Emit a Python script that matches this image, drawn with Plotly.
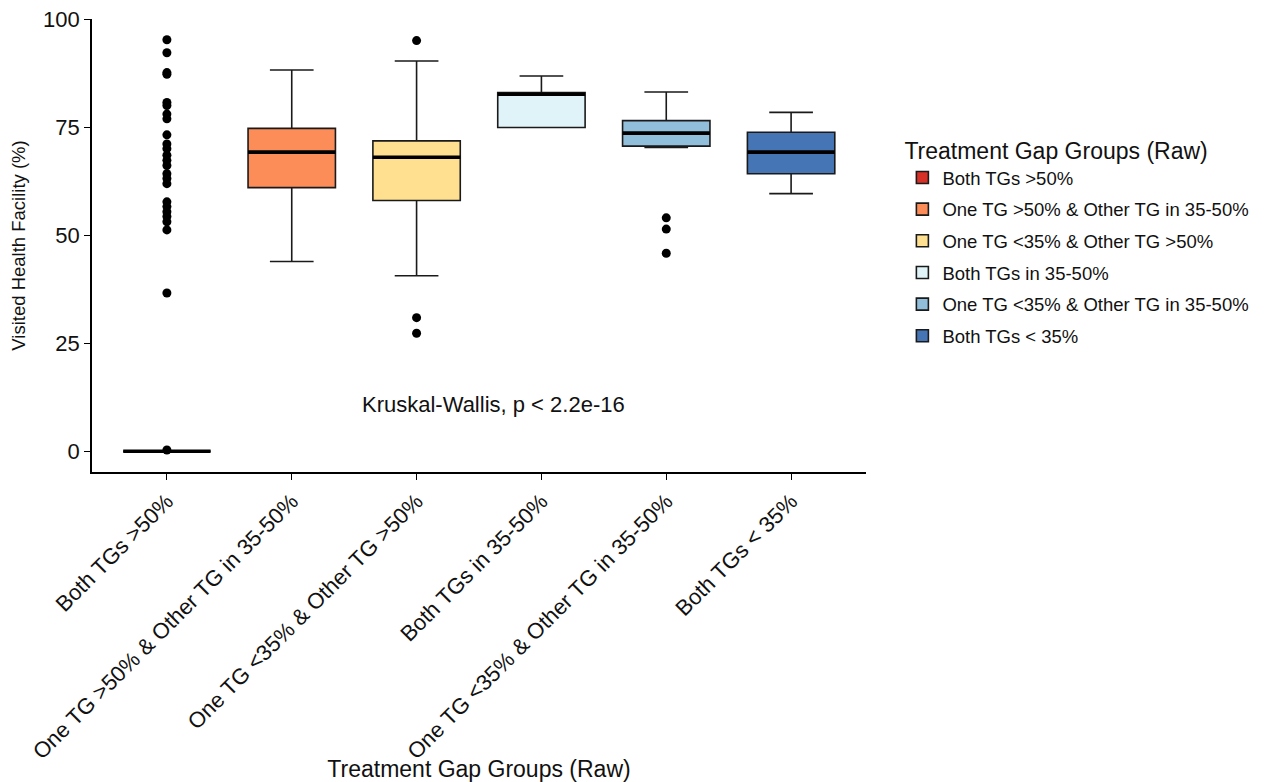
import plotly.graph_objects as go

# ---- data ----
groups = [
    "Both TGs >50%",
    "One TG >50% & Other TG in 35-50%",
    "One TG <35% & Other TG >50%",
    "Both TGs in 35-50%",
    "One TG <35% & Other TG in 35-50%",
    "Both TGs < 35%",
]
q1 = [0.0, 61.0, 58.0, 74.9, 70.6, 64.2]
median = [0.0, 69.2, 68.0, 82.6, 73.6, 69.2]
q3 = [0.0, 74.7, 71.8, 83.0, 76.5, 73.8]
lower_whisker = [0.0, 43.9, 40.6, 74.9, 70.3, 59.6]
upper_whisker = [0.0, 88.2, 90.3, 86.8, 83.1, 78.4]
outliers = [
    [95.2, 92.2, 87.6, 87.2, 80.7, 80.0, 78.0, 76.9, 73.2, 71.1, 70.0, 68.5,
     67.3, 66.1, 64.2, 63.1, 61.9, 57.7, 56.6, 55.4, 54.3, 53.1, 51.2, 36.6, 0.3],
    [],
    [95.0, 30.9, 27.3],
    [],
    [54.0, 51.4, 45.8],
    [],
]
colors = ["#D73027", "#FC8D59", "#FEE090", "#E0F3F8", "#91BFDB", "#4575B4"]
y_ticks = [0, 25, 50, 75, 100]
test_label = "Kruskal-Wallis, p < 2.2e-16"

FONT = "Liberation Sans, Arial, Helvetica, sans-serif"
BOX_W = 0.7

fig = go.Figure()
for i, g in enumerate(groups):
    fig.add_trace(go.Box(
        x=[i], q1=[q1[i]], median=[median[i]], q3=[q3[i]],
        lowerfence=[lower_whisker[i]], upperfence=[upper_whisker[i]],
        name=g, fillcolor=colors[i], width=BOX_W,
        line=dict(color="#1a1a1a", width=1.6),
        boxpoints=False, legendgroup=g, showlegend=True,
        hoverinfo="skip",
    ))
for i, g in enumerate(groups):
    # thick median line (ggplot style)
    fig.add_trace(go.Scatter(
        x=[i - BOX_W / 2, i + BOX_W / 2], y=[median[i], median[i]],
        mode="lines", line=dict(color="#000000", width=3.6),
        showlegend=False, hoverinfo="skip", legendgroup=g,
    ))
    if outliers[i]:
        fig.add_trace(go.Scatter(
            x=[i] * len(outliers[i]), y=outliers[i], mode="markers",
            marker=dict(color="#000000", size=9),
            showlegend=False, hoverinfo="skip", legendgroup=g,
        ))

fig.add_annotation(
    x=2.62, y=10.8, xref="x", yref="y", text=test_label, showarrow=False,
    font=dict(family=FONT, size=22, color="#111111"), xanchor="center", yanchor="middle",
)

fig.update_layout(
    width=1266, height=774,
    paper_bgcolor="white", plot_bgcolor="white",
    margin=dict(l=84, r=408, t=11, b=310, autoexpand=False),
    font=dict(family=FONT, color="#111111"),
    boxmode="overlay",
    legend=dict(
        title=dict(text="Treatment Gap Groups (Raw)", font=dict(family=FONT, size=23, color="#111111")),
        font=dict(family=FONT, size=18.5, color="#111111"),
        x=1.047, xanchor="left", y=0.757, yanchor="top",
        tracegroupgap=4.6, bgcolor="rgba(0,0,0,0)",
    ),
)
fig.update_xaxes(
    range=[-0.6, 5.6], tickmode="array", tickvals=list(range(len(groups))), ticktext=groups,
    tickangle=-45, showline=True, linecolor="#000000", linewidth=1.6,
    ticks="outside", ticklen=6, tickwidth=1.4, tickcolor="#000000",
    tickfont=dict(family=FONT, size=22, color="#111111"),
    showgrid=False, zeroline=False, automargin=False, ticklabeloverflow="allow",
    title=dict(text="Treatment Gap Groups (Raw)", font=dict(family=FONT, size=23, color="#111111"), standoff=0),
)
fig.update_yaxes(
    range=[-4.8, 100], tickmode="array", tickvals=y_ticks,
    showline=True, linecolor="#000000", linewidth=1.6,
    ticks="outside", ticklen=6, tickwidth=1.4, tickcolor="#000000",
    tickfont=dict(family=FONT, size=22, color="#111111"),
    showgrid=False, zeroline=False, automargin=False, ticklabeloverflow="allow",
    title=dict(text="Visited Health Facility (%)", font=dict(family=FONT, size=18.5, color="#111111"), standoff=22),
)

fig.write_html("out.html")
